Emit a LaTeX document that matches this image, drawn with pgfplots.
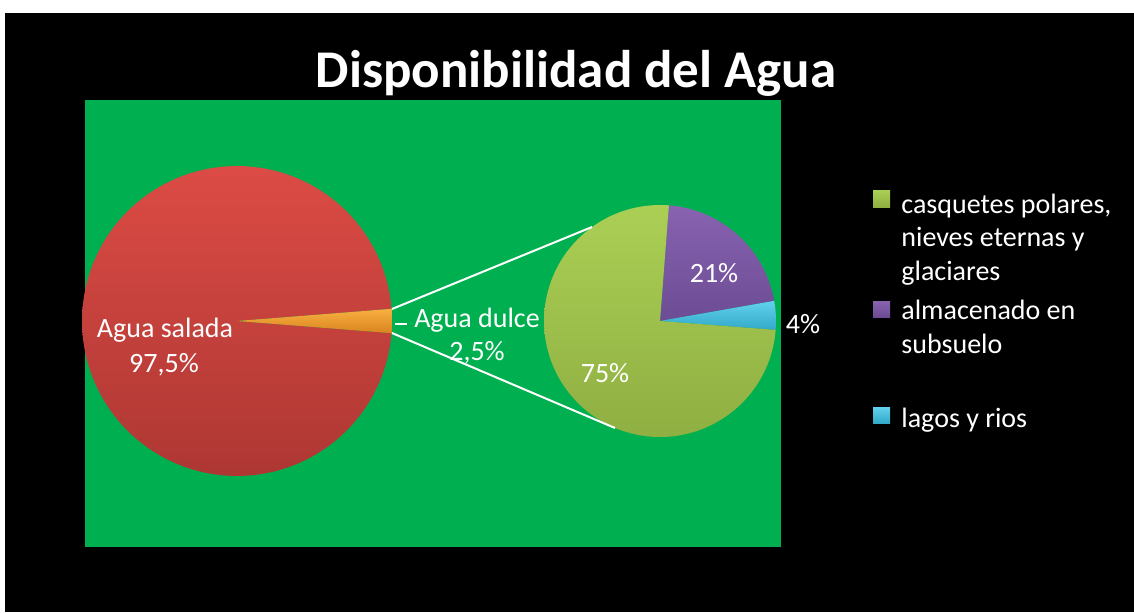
\documentclass[border=0pt]{standalone}
\usepackage{pgfplots}
\pgfplotsset{compat=1.18}
\usepackage{pgfplotstable}
\usepackage{fontspec}
\setmainfont{Carlito}

\definecolor{bggreen}{HTML}{00B050}
\definecolor{redtop}{HTML}{DC4B45}
\definecolor{redbot}{HTML}{AE3733}
\definecolor{orangetop}{HTML}{F8B040}
\definecolor{orangebot}{HTML}{D98420}
\definecolor{gtop}{HTML}{ABCF55}
\definecolor{gbot}{HTML}{8FAF42}
\definecolor{ptop}{HTML}{8863B0}
\definecolor{pbot}{HTML}{6C4C94}
\definecolor{ctop}{HTML}{62D2EE}
\definecolor{cbot}{HTML}{32A8C8}

\pgfplotstableread{
part value
salada 97.5
dulce 2.5
}\maindata
\pgfplotstableread{
part value
casquetes 75
subsuelo 21
lagos 4
}\subdata

\newcommand{\lbl}{\fontsize{14}{16.8}\selectfont\color{white}}

\begin{document}%
\begin{tikzpicture}
\pgfplotstablegetelem{0}{value}\of\maindata \let\vSal\pgfplotsretval
\pgfplotstablegetelem{1}{value}\of\maindata \let\vDul\pgfplotsretval
\pgfplotstablegetelem{0}{value}\of\subdata \let\vCas\pgfplotsretval
\pgfplotstablegetelem{1}{value}\of\subdata \let\vSub\pgfplotsretval
\pgfplotstablegetelem{2}{value}\of\subdata \let\vLag\pgfplotsretval
% big pie geometry (pixel units)
\pgfmathsetmacro\cxA{237}\pgfmathsetmacro\cyA{321}\pgfmathsetmacro\rA{155}
\pgfmathsetmacro\halfD{\vDul*3.6/2}
\pgfmathsetmacro\salB{360-\halfD}
\pgfmathsetmacro\dulA{-\halfD}
% small pie geometry
\pgfmathsetmacro\cxB{660}\pgfmathsetmacro\cyB{321}\pgfmathsetmacro\rB{116}
\pgfmathsetmacro\aS{85.6}
\pgfmathsetmacro\pA{\aS-\vSub*3.6}
\pgfmathsetmacro\cA{\pA-\vLag*3.6}
\pgfmathsetmacro\gA{\cA-\vCas*3.6}
\begin{axis}[
  name=ax,
  width=567pt, height=306pt, scale only axis,
  xmin=0, xmax=1134, ymin=0, ymax=612, y dir=reverse,
  enlargelimits=false,
  hide axis, clip=false, xtick=\empty, ytick=\empty,
]
% backgrounds
\fill[white] (axis cs:0,0) rectangle (axis cs:1134,612);
\fill[black] (axis cs:5,13) rectangle (axis cs:1134,612);
\fill[bggreen] (axis cs:85,100) rectangle (axis cs:781,547);

% big pie
\addplot[draw=none, top color=redtop, bottom color=redbot, domain=\halfD:\salB, samples=120]
  ({\cxA+\rA*cos(x)},{\cyA-\rA*sin(x)}) -- (axis cs:\cxA,\cyA) -- cycle;
\addplot[draw=none, top color=orangetop, bottom color=orangebot, domain=\dulA:\halfD, samples=10]
  ({\cxA+\rA*cos(x)},{\cyA-\rA*sin(x)}) -- (axis cs:\cxA,\cyA) -- cycle;

% small pie
\addplot[draw=none, top color=ptop, bottom color=pbot, domain=\pA:\aS, samples=40]
  ({\cxB+\rB*cos(x)},{\cyB-\rB*sin(x)}) -- (axis cs:\cxB,\cyB) -- cycle;
\addplot[draw=none, top color=ctop, bottom color=cbot, domain=\cA:\pA, samples=12]
  ({\cxB+\rB*cos(x)},{\cyB-\rB*sin(x)}) -- (axis cs:\cxB,\cyB) -- cycle;
\addplot[draw=none, top color=gtop, bottom color=gbot, domain=\gA:\cA, samples=120]
  ({\cxB+\rB*cos(x)},{\cyB-\rB*sin(x)}) -- (axis cs:\cxB,\cyB) -- cycle;

% connector lines
\draw[white, line width=1pt] (axis cs:392,309) -- (axis cs:592,227);
\draw[white, line width=1pt] (axis cs:392,333) -- (axis cs:615,428);
\draw[white, line width=0.8pt] (axis cs:395,324) -- (axis cs:407,324);

% title
\node[anchor=base, text=white, font=\fontsize{26.5}{30}\selectfont\bfseries] at (axis cs:576,87) {Disponibilidad del Agua};

% data labels
\node[anchor=base] at (axis cs:165,337) {\lbl Agua salada};
\node[anchor=base] at (axis cs:164,372) {\lbl 97,5\%};
\node[anchor=base] at (axis cs:477,327) {\lbl Agua dulce};
\node[anchor=base] at (axis cs:477,360) {\lbl 2,5\%};
\node[anchor=base] at (axis cs:714,282) {\lbl 21\%};
\node[anchor=base] at (axis cs:803,333) {\lbl 4\%};
\node[anchor=base] at (axis cs:605,382) {\lbl 75\%};

% legend
\fill[top color=gtop, bottom color=gbot] (axis cs:873,190) rectangle (axis cs:890,207);
\fill[top color=ptop, bottom color=pbot] (axis cs:873,301) rectangle (axis cs:890,317);
\fill[top color=ctop, bottom color=cbot] (axis cs:873,407) rectangle (axis cs:890,423);
\node[anchor=base west, inner sep=0pt] at (axis cs:901,213) {\lbl casquetes polares,};
\node[anchor=base west, inner sep=0pt] at (axis cs:901,246) {\lbl nieves eternas y};
\node[anchor=base west, inner sep=0pt] at (axis cs:901,280) {\lbl glaciares};
\node[anchor=base west, inner sep=0pt] at (axis cs:901,319) {\lbl almacenado en};
\node[anchor=base west, inner sep=0pt] at (axis cs:901,353) {\lbl subsuelo};
\node[anchor=base west, inner sep=0pt] at (axis cs:901,427) {\lbl lagos y rios};
\end{axis}
\pgfresetboundingbox
\path[use as bounding box] (ax.south west) rectangle (ax.north east);
\end{tikzpicture}%
\end{document}
